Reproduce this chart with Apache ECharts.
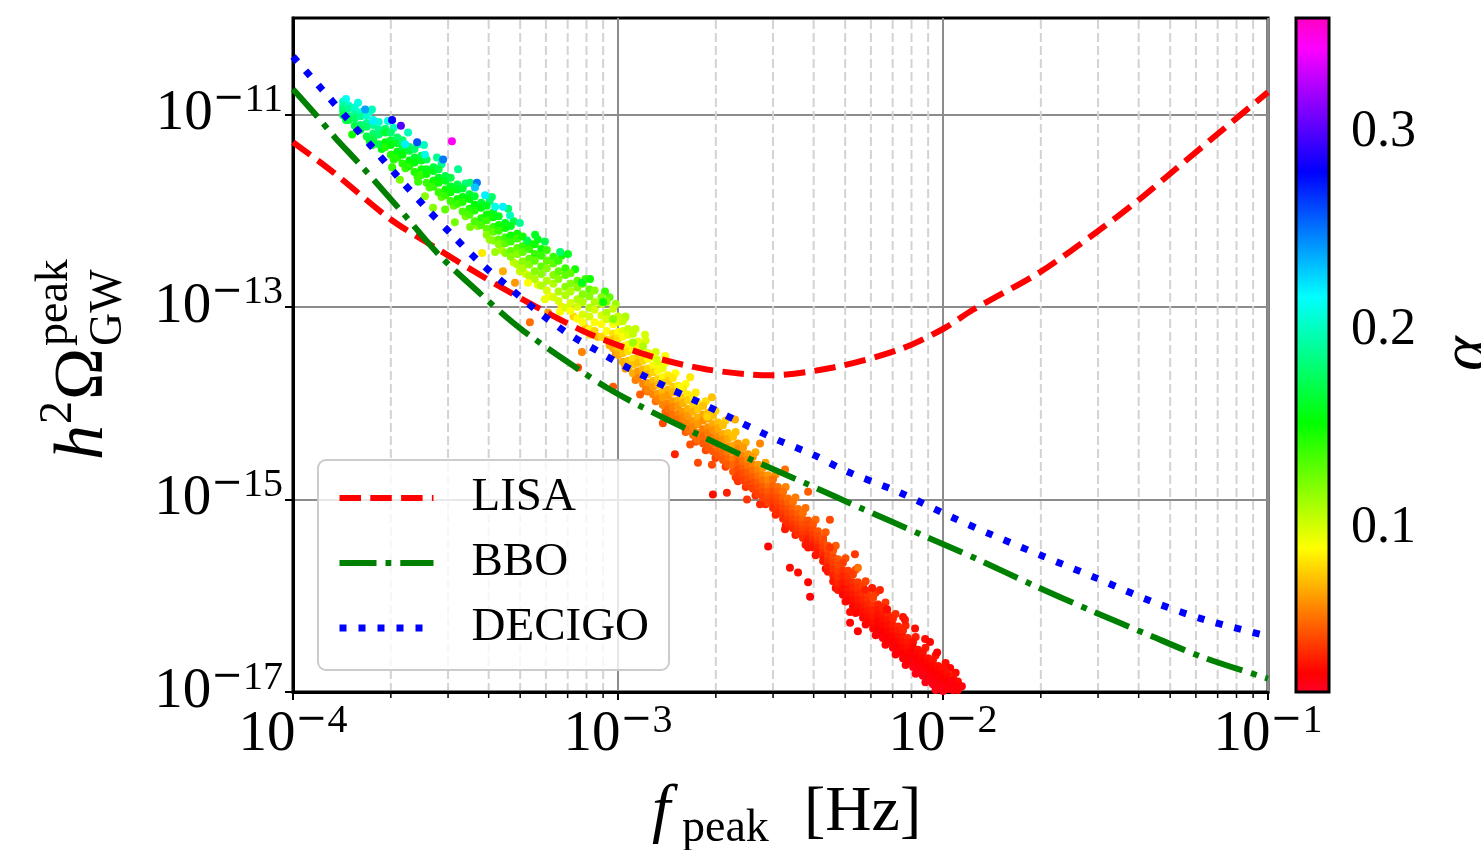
<!DOCTYPE html>
<html><head><meta charset="utf-8">
<script src="https://cdn.jsdelivr.net/npm/echarts/dist/echarts.min.js"></script>
<style>html,body{margin:0;padding:0;background:#fff}#c{width:1481px;height:850px}</style>
</head><body><div id="c"></div>
<script>
// ---------------- data (log10 units) ----------------
const xTickExponents = [-4, -3, -2, -1];
const yTickExponents = [-17, -15, -13, -11];
const xRangeExp = [-4, -1];
const yRangeExp = [-17, -10];
const minorMantissas = [2, 3, 4, 5, 6, 7, 8, 9];
const minorDecades = [-4, -3, -2];
const colorbarTicks = [0.1, 0.2, 0.3];
const alphaRange = [0.017, 0.358];

// sensitivity curves: [log10 f, log10 h2Omega]
const lisaCurve = [[-4.000,-11.29],[-3.877,-11.60],[-3.700,-12.09],[-3.569,-12.37],[-3.363,-12.79],[-3.108,-13.25],[-2.902,-13.51],[-2.726,-13.65],[-2.532,-13.71],[-2.338,-13.63],[-2.132,-13.44],[-2.000,-13.23],[-1.908,-13.03],[-1.702,-12.64],[-1.526,-12.22],[-1.394,-11.88],[-1.302,-11.62],[-1.157,-11.21],[-1.000,-10.77]];
const bboCurve = [[-4.000,-10.74],[-3.926,-11.02],[-3.871,-11.24],[-3.794,-11.52],[-3.671,-11.99],[-3.548,-12.47],[-3.425,-12.86],[-3.342,-13.11],[-3.271,-13.30],[-3.108,-13.68],[-3.034,-13.84],[-2.932,-14.03],[-2.769,-14.30],[-2.594,-14.58],[-2.418,-14.84],[-2.246,-15.10],[-2.071,-15.36],[-1.895,-15.62],[-1.723,-15.89],[-1.548,-16.15],[-1.372,-16.40],[-1.200,-16.64],[-1.000,-16.86]];
const decigoCurve = [[-4.000,-10.40],[-3.911,-10.74],[-3.834,-11.04],[-3.754,-11.35],[-3.677,-11.65],[-3.594,-11.96],[-3.511,-12.25],[-3.428,-12.53],[-3.338,-12.79],[-3.246,-13.05],[-3.148,-13.29],[-3.046,-13.49],[-2.994,-13.59],[-2.834,-13.86],[-2.726,-14.03],[-2.618,-14.21],[-2.511,-14.38],[-2.403,-14.53],[-2.295,-14.71],[-2.132,-14.93],[-1.969,-15.19],[-1.855,-15.36],[-1.692,-15.59],[-1.526,-15.82],[-1.357,-16.06],[-1.194,-16.25],[-1.000,-16.42]];

// alpha values (top -> bottom of the band) used by the band slices
const alphaProfiles = [
 [.205,.19,.18,.17],
 [.18,.165,.155,.145],
 [.17,.16,.15,.14],
 [.165,.155,.145,.135],
 [.16,.15,.14,.13,.12],
 [.15,.14,.13,.12,.11],
 [.14,.13,.12,.11,.10],
 [.13,.12,.11,.10,.09],
 [.12,.11,.10,.09,.08],
 [.105,.098,.09,.083,.076,.07],
 [.095,.088,.08,.073,.066,.06],
 [.085,.078,.071,.065,.06,.055],
 [.075,.069,.063,.058,.053,.049],
 [.065,.06,.055,.05,.046,.043],
 [.055,.051,.047,.044,.041,.038],
 [.048,.045,.042,.039,.036,.033],
 [.042,.039,.036,.033,.031,.029],
 [.036,.033,.031,.029,.027,.025],
 [.031,.029,.027,.025,.024,.022]
];

// scatter band: [log10 f, alpha profile, [log10 h2Omega ...]]
const bandSlices = [
[-3.846,0,[-10.87,-10.92,-10.96,-11.01]],
[-3.829,0,[-10.91,-10.94,-11.02,-11.06]],
[-3.810,0,[-10.93,-11.00,-11.04,-11.12]],
[-3.792,0,[-10.98,-11.02,-11.11,-11.16]],
[-3.773,0,[-11.01,-11.09,-11.13,-11.23]],
[-3.753,0,[-11.06,-11.11,-11.20,-11.26]],
[-3.736,0,[-11.08,-11.16,-11.21,-11.31]],
[-3.716,1,[-11.15,-11.19,-11.29,-11.34]],
[-3.699,1,[-11.19,-11.27,-11.32,-11.42]],
[-3.679,1,[-11.24,-11.30,-11.39,-11.45]],
[-3.663,1,[-11.27,-11.36,-11.42,-11.51]],
[-3.642,1,[-11.34,-11.38,-11.48,-11.54]],
[-3.626,1,[-11.36,-11.45,-11.50,-11.60]],
[-3.605,2,[-11.43,-11.48,-11.57,-11.63]],
[-3.589,2,[-11.47,-11.57,-11.62,-11.71]],
[-3.568,2,[-11.55,-11.59,-11.69,-11.75]],
[-3.552,2,[-11.57,-11.66,-11.71,-11.81]],
[-3.531,2,[-11.64,-11.69,-11.78,-11.84]],
[-3.515,2,[-11.66,-11.75,-11.81,-11.90]],
[-3.494,2,[-11.73,-11.78,-11.88,-11.93]],
[-3.478,3,[-11.77,-11.86,-11.91,-12.01]],
[-3.457,3,[-11.83,-11.88,-11.98,-12.04]],
[-3.441,3,[-11.85,-11.94,-12.00,-12.11]],
[-3.421,3,[-11.92,-11.97,-12.08,-12.15]],
[-3.404,4,[-11.95,-12.04,-12.10,-12.19,-12.25]],
[-3.384,4,[-12.02,-12.07,-12.17,-12.22,-12.31]],
[-3.367,4,[-12.06,-12.15,-12.21,-12.30,-12.35]],
[-3.347,4,[-12.13,-12.18,-12.28,-12.34,-12.44]],
[-3.330,4,[-12.16,-12.26,-12.32,-12.42,-12.48]],
[-3.310,5,[-12.24,-12.29,-12.39,-12.45,-12.56]],
[-3.293,5,[-12.27,-12.37,-12.43,-12.53,-12.60]],
[-3.273,5,[-12.34,-12.40,-12.50,-12.56,-12.68]],
[-3.256,5,[-12.35,-12.45,-12.52,-12.63,-12.71]],
[-3.236,5,[-12.40,-12.47,-12.58,-12.66,-12.78]],
[-3.219,6,[-12.41,-12.52,-12.60,-12.73,-12.83]],
[-3.199,6,[-12.48,-12.55,-12.67,-12.76,-12.90]],
[-3.183,6,[-12.52,-12.63,-12.71,-12.84,-12.94]],
[-3.162,6,[-12.60,-12.67,-12.79,-12.88,-13.01]],
[-3.146,7,[-12.65,-12.76,-12.84,-12.96,-13.04]],
[-3.125,7,[-12.73,-12.80,-12.92,-13.00,-13.12]],
[-3.109,7,[-12.76,-12.87,-12.95,-13.08,-13.16]],
[-3.088,7,[-12.82,-12.89,-13.01,-13.10,-13.23]],
[-3.072,8,[-12.83,-12.95,-13.03,-13.16,-13.25]],
[-3.051,8,[-12.90,-12.97,-13.09,-13.18,-13.31]],
[-3.035,8,[-12.95,-13.06,-13.13,-13.25,-13.34]],
[-3.015,9,[-13.02,-13.12,-13.18,-13.28,-13.34,-13.43]],
[-3.000,9,[-13.10,-13.16,-13.26,-13.33,-13.43,-13.50]],
[-2.985,9,[-13.15,-13.25,-13.31,-13.41,-13.48,-13.57]],
[-2.969,9,[-13.23,-13.29,-13.39,-13.46,-13.56,-13.63]],
[-2.954,9,[-13.28,-13.38,-13.44,-13.54,-13.60,-13.69]],
[-2.938,10,[-13.36,-13.42,-13.52,-13.58,-13.67,-13.74]],
[-2.923,10,[-13.41,-13.50,-13.56,-13.65,-13.71,-13.80]],
[-2.908,10,[-13.48,-13.54,-13.64,-13.70,-13.79,-13.86]],
[-2.892,10,[-13.52,-13.61,-13.68,-13.77,-13.83,-13.91]],
[-2.877,10,[-13.60,-13.66,-13.75,-13.81,-13.90,-13.96]],
[-2.862,10,[-13.64,-13.73,-13.79,-13.88,-13.94,-14.02]],
[-2.846,11,[-13.71,-13.77,-13.86,-13.92,-14.00,-14.06]],
[-2.831,11,[-13.74,-13.83,-13.89,-13.98,-14.04,-14.12]],
[-2.815,11,[-13.82,-13.88,-13.97,-14.03,-14.11,-14.17]],
[-2.800,11,[-13.85,-13.94,-14.00,-14.09,-14.15,-14.23]],
[-2.785,11,[-13.91,-13.97,-14.06,-14.13,-14.21,-14.28]],
[-2.769,11,[-13.94,-14.03,-14.09,-14.18,-14.25,-14.33]],
[-2.754,11,[-14.00,-14.06,-14.15,-14.22,-14.31,-14.38]],
[-2.738,12,[-14.03,-14.12,-14.18,-14.27,-14.34,-14.42]],
[-2.723,12,[-14.10,-14.16,-14.25,-14.31,-14.39,-14.46]],
[-2.708,12,[-14.13,-14.22,-14.28,-14.36,-14.42,-14.50]],
[-2.692,12,[-14.20,-14.26,-14.34,-14.40,-14.48,-14.54]],
[-2.677,12,[-14.23,-14.32,-14.38,-14.46,-14.52,-14.59]],
[-2.662,12,[-14.31,-14.37,-14.45,-14.51,-14.58,-14.64]],
[-2.646,12,[-14.35,-14.44,-14.50,-14.58,-14.64,-14.71]],
[-2.631,13,[-14.42,-14.48,-14.56,-14.62,-14.69,-14.75]],
[-2.615,13,[-14.46,-14.54,-14.60,-14.68,-14.73,-14.80]],
[-2.600,13,[-14.53,-14.59,-14.66,-14.72,-14.79,-14.85]],
[-2.585,13,[-14.56,-14.64,-14.70,-14.77,-14.83,-14.89]],
[-2.569,13,[-14.64,-14.70,-14.76,-14.83,-14.88,-14.94]],
[-2.554,13,[-14.67,-14.75,-14.80,-14.87,-14.92,-14.98]],
[-2.538,13,[-14.75,-14.80,-14.87,-14.92,-14.98,-15.03]],
[-2.523,14,[-14.79,-14.86,-14.92,-14.98,-15.03,-15.09]],
[-2.508,14,[-14.87,-14.92,-14.98,-15.04,-15.09,-15.14]],
[-2.492,14,[-14.92,-14.99,-15.04,-15.10,-15.15,-15.20]],
[-2.477,14,[-14.99,-15.04,-15.10,-15.15,-15.21,-15.25]],
[-2.462,14,[-15.03,-15.10,-15.15,-15.21,-15.26,-15.30]],
[-2.446,14,[-15.10,-15.15,-15.21,-15.26,-15.31,-15.35]],
[-2.431,14,[-15.14,-15.21,-15.26,-15.31,-15.36,-15.40]],
[-2.415,15,[-15.22,-15.26,-15.32,-15.37,-15.41,-15.45]],
[-2.400,15,[-15.26,-15.32,-15.37,-15.42,-15.46,-15.50]],
[-2.385,15,[-15.33,-15.38,-15.43,-15.47,-15.51,-15.55]],
[-2.369,15,[-15.39,-15.45,-15.50,-15.55,-15.59,-15.64]],
[-2.354,15,[-15.48,-15.53,-15.59,-15.64,-15.70,-15.75]],
[-2.338,15,[-15.53,-15.60,-15.66,-15.73,-15.79,-15.85]],
[-2.323,15,[-15.62,-15.68,-15.75,-15.81,-15.88,-15.94]],
[-2.308,16,[-15.66,-15.74,-15.80,-15.87,-15.93,-15.99]],
[-2.292,16,[-15.74,-15.80,-15.87,-15.93,-16.00,-16.05]],
[-2.277,16,[-15.78,-15.86,-15.92,-15.99,-16.05,-16.11]],
[-2.262,16,[-15.86,-15.92,-15.99,-16.05,-16.12,-16.17]],
[-2.246,16,[-15.90,-15.98,-16.04,-16.11,-16.17,-16.23]],
[-2.231,16,[-15.98,-16.04,-16.10,-16.16,-16.23,-16.28]],
[-2.215,16,[-16.02,-16.10,-16.15,-16.22,-16.28,-16.34]],
[-2.200,17,[-16.09,-16.15,-16.21,-16.27,-16.34,-16.39]],
[-2.185,17,[-16.12,-16.20,-16.26,-16.32,-16.38,-16.44]],
[-2.169,17,[-16.20,-16.25,-16.31,-16.37,-16.43,-16.48]],
[-2.154,17,[-16.24,-16.31,-16.37,-16.43,-16.48,-16.54]],
[-2.138,17,[-16.32,-16.37,-16.43,-16.48,-16.54,-16.59]],
[-2.123,17,[-16.36,-16.43,-16.48,-16.54,-16.60,-16.65]],
[-2.108,17,[-16.44,-16.49,-16.54,-16.59,-16.64,-16.69]],
[-2.092,18,[-16.48,-16.54,-16.59,-16.64,-16.69,-16.74]],
[-2.077,18,[-16.56,-16.60,-16.65,-16.69,-16.74,-16.78]],
[-2.062,18,[-16.59,-16.65,-16.69,-16.74,-16.78,-16.83]],
[-2.046,18,[-16.65,-16.69,-16.74,-16.78,-16.83,-16.87]],
[-2.031,18,[-16.67,-16.73,-16.78,-16.83,-16.88,-16.92]],
[-2.015,18,[-16.73,-16.77,-16.82,-16.87,-16.92,-16.96]],
[-2.000,18,[-16.75,-16.81,-16.86,-16.91,-16.95,-16.99]],
[-1.985,18,[-16.81,-16.85,-16.89,-16.93,-16.97,-17.01]],
[-1.969,18,[-16.84,-16.88,-16.92,-16.95,-16.98,-17.02]],
[-1.954,18,[-16.89,-16.92,-16.95,-16.98,-17.01,-17.04]]
];

// fringe just above / below the band: [log10 f, log10 h2Omega, alpha]
const bandFringe = [
[-3.837,-10.84,.215],[-3.837,-11.06,.17],[-3.801,-11.17,.165],[-3.764,-10.97,.21],[-3.764,-11.28,.16],[-3.727,-11.36,.155],
[-3.690,-11.14,.20],[-3.690,-11.47,.145],[-3.654,-11.56,.14],[-3.617,-11.31,.195],[-3.617,-11.65,.14],[-3.580,-11.76,.135],
[-3.543,-11.52,.19],[-3.543,-11.86,.13],[-3.506,-11.95,.13],[-3.469,-11.72,.185],[-3.469,-12.06,.125],[-3.432,-12.16,.12],
[-3.395,-11.90,.18],[-3.395,-12.30,.115],[-3.358,-12.41,.11],[-3.321,-12.11,.17],[-3.321,-12.54,.105],[-3.284,-12.66,.10],
[-3.247,-12.30,.16],[-3.247,-12.77,.095],[-3.210,-12.89,.09],[-3.174,-12.47,.15],[-3.174,-13.00,.085],[-3.137,-13.10,.08],
[-3.100,-12.71,.14],[-3.100,-13.22,.075],[-3.063,-13.31,.072],[-3.026,-12.90,.13],[-3.026,-13.40,.07],
[-3.007,-12.97,.115],[-3.007,-13.49,.065],[-2.977,-13.10,.11],[-2.977,-13.64,.062],[-2.946,-13.23,.105],[-2.946,-13.76,.058],
[-2.915,-13.35,.10],[-2.915,-13.87,.056],[-2.884,-13.47,.10],[-2.884,-13.98,.055],[-2.854,-13.58,.095],[-2.854,-14.09,.053],
[-2.823,-13.69,.09],[-2.823,-14.19,.05],[-2.792,-13.80,.09],[-2.792,-14.30,.05],[-2.761,-13.89,.085],[-2.761,-14.40,.048],
[-2.730,-13.98,.082],[-2.730,-14.49,.045],[-2.700,-14.08,.08],[-2.700,-14.57,.044],[-2.669,-14.18,.078],[-2.669,-14.66,.043],
[-2.638,-14.30,.075],[-2.638,-14.77,.042],[-2.607,-14.41,.072],[-2.607,-14.87,.04],[-2.577,-14.51,.07],[-2.577,-14.96,.039],
[-2.546,-14.62,.067],[-2.546,-15.05,.038],[-2.515,-14.74,.063],[-2.515,-15.16,.036],[-2.484,-14.87,.06],[-2.484,-15.27,.035],
[-2.454,-14.98,.058],[-2.454,-15.37,.034],[-2.423,-15.09,.055],[-2.423,-15.47,.033],[-2.392,-15.21,.053],[-2.392,-15.58,.032],
[-2.361,-15.34,.05],[-2.361,-15.72,.031],[-2.330,-15.48,.05],[-2.330,-15.92,.03],[-2.300,-15.61,.047],[-2.300,-16.06,.03],
[-2.269,-15.73,.045],[-2.269,-16.18,.029],[-2.238,-15.85,.044],[-2.238,-16.30,.028],[-2.207,-15.97,.042],[-2.207,-16.41,.027],
[-2.177,-16.07,.04],[-2.177,-16.51,.026],[-2.146,-16.19,.038],[-2.146,-16.61,.025],[-2.115,-16.31,.036],[-2.115,-16.72,.024],
[-2.084,-16.43,.034],[-2.084,-16.81,.023],[-2.054,-16.54,.033],[-2.054,-16.90,.022],[-2.023,-16.62,.032],[-2.023,-16.98,.022],
[-1.992,-16.70,.03],[-1.961,-16.80,.029]
];

// points scattered along the edges of the band: [log10 f, log10 h2Omega, alpha]
const bandEdgePoints = [
[-3.800,-10.88,.21],[-3.757,-10.95,.20],[-3.708,-11.07,.21],[-3.646,-11.19,.20],[-3.597,-11.32,.20],[-3.557,-11.45,.19],
[-3.492,-11.57,.19],[-3.455,-11.71,.18],[-3.388,-11.86,.18],[-3.338,-11.98,.18],[-3.255,-12.25,.16],[-3.225,-12.32,.17],
[-3.154,-12.45,.16],[-3.132,-12.61,.15],[-3.086,-12.71,.15],[-3.040,-12.84,.14],
[-3.757,-11.32,.16],[-3.695,-11.55,.14],[-3.615,-11.70,.14],[-3.532,-11.99,.13],[-3.455,-12.17,.125],[-3.378,-12.43,.115],
[-3.302,-12.63,.105],[-3.225,-12.92,.095],[-3.178,-13.05,.09],[-3.086,-13.29,.085],
[-2.978,-13.11,.11],[-2.917,-13.29,.10],[-2.855,-13.51,.09],[-2.778,-13.73,.085],[-2.711,-13.94,.075],[-2.640,-14.17,.07],
[-2.563,-14.42,.06],[-2.486,-14.69,.055],[-2.415,-14.92,.05],[-2.348,-15.21,.045],[-2.271,-15.57,.04],[-2.194,-15.94,.036],
[-2.117,-16.25,.033],[-2.055,-16.45,.03],[-1.978,-16.75,.028],
[-2.978,-13.60,.062],[-2.908,-13.88,.055],[-2.846,-14.12,.05],[-2.778,-14.43,.047],[-2.711,-14.64,.045],[-2.631,-14.81,.04],
[-2.563,-15.05,.037],[-2.486,-15.31,.034],[-2.415,-15.50,.032],[-2.342,-15.73,.03],[-2.271,-16.09,.028],[-2.194,-16.40,.026],
[-2.117,-16.64,.024],[-2.046,-16.85,.023]
];

// isolated points: [log10 f, log10 h2Omega, alpha]
const scatterOutliers = [
[-3.778,-10.95,.24],[-3.695,-11.06,.28],[-3.668,-11.12,.30],[-3.618,-11.29,.26],[-3.538,-11.47,.25],[-3.511,-11.28,.345],
[-3.434,-11.71,.25],[-3.409,-11.84,.22],[-3.354,-11.96,.22],[-3.332,-12.05,.20],[-3.302,-12.13,.19],[-3.280,-12.31,.17],
[-3.178,-12.43,.18],[-3.111,-12.75,.16],[-3.754,-11.07,.22],[-3.655,-11.31,.22],[-3.594,-11.42,.21],[-3.440,-11.76,.23],
[-3.378,-11.96,.21],[-3.046,-12.95,.15],[-3.015,-13.13,.12],[-2.954,-13.37,.115],[-2.923,-13.41,.11],[-2.880,-13.55,.10],
[-2.809,-13.84,.09],[-2.726,-14.14,.08],
[-3.818,-11.21,.15],[-3.671,-11.68,.125],[-3.594,-11.85,.12],[-3.569,-11.97,.12],[-3.502,-12.12,.125],[-3.418,-12.44,.085],
[-3.354,-12.63,.07],[-3.317,-12.75,.065],[-3.277,-12.75,.09],[-3.271,-13.16,.055],[-3.215,-13.06,.065],[-3.111,-13.47,.06],
[-3.123,-13.63,.045],[-3.015,-13.83,.05],[-2.932,-13.91,.05],[-2.862,-14.21,.045],[-2.825,-14.53,.035],[-2.754,-14.62,.045],
[-2.708,-14.95,.03],[-2.665,-14.93,.035],[-2.603,-15.00,.04],[-2.538,-15.49,.028],[-2.471,-15.71,.03],[-2.446,-15.76,.03],
[-2.415,-15.86,.028],[-2.409,-16.01,.026],[-2.369,-15.42,.045],[-2.348,-15.50,.04],[-2.286,-16.17,.03],[-2.286,-16.28,.028],
[-2.262,-16.37,.027],[-2.262,-15.71,.055],[-2.240,-15.94,.035],[-2.218,-15.92,.033],[-2.172,-16.14,.03],[-2.123,-16.22,.032],
[-2.086,-16.34,.03],[-2.040,-16.48,.028],[-2.018,-16.59,.027],[-1.972,-16.89,.024],[-1.942,-16.94,.024]
];

// ---------------- colormap (matplotlib gist_rainbow) ----------------
const gistStops = [[0,[255,0,41]],[0.03,[255,0,0]],[0.215,[255,255,0]],[0.4,[0,255,0]],[0.586,[0,255,255]],[0.77,[0,0,255]],[0.954,[255,0,255]],[1,[255,0,191]]];
function cmap(t){
  t = Math.max(0, Math.min(1, t));
  for (let i = 1; i < gistStops.length; i++){
    const a = gistStops[i-1], b = gistStops[i];
    if (t <= b[0]){
      const u = (t - a[0]) / (b[0] - a[0]);
      const c = a[1].map((v, k) => Math.round(v + (b[1][k] - v) * u));
      return 'rgb(' + c.join(',') + ')';
    }
  }
  return 'rgb(255,0,191)';
}
function alphaColor(a){ return cmap((a - alphaRange[0]) / (alphaRange[1] - alphaRange[0])); }

// ---------------- build series data ----------------
const scatterData = [];
bandFringe.forEach(p => scatterData.push(p));
bandEdgePoints.forEach(p => scatterData.push(p));
bandSlices.forEach(s => s[2].forEach((y, i) => scatterData.push([s[0], y, alphaProfiles[s[1]][i]])));
scatterOutliers.forEach(p => scatterData.push(p));

const minorTicks = [];
minorDecades.forEach(d => minorMantissas.forEach(m => minorTicks.push([d + Math.log10(m), 0])));

const SERIF = '"Liberation Serif","Times New Roman",serif';
const powRich = {
  b: {fontFamily: SERIF, fontSize: 57, color: '#000', lineHeight: 68, verticalAlign: 'middle'},
  m: {fontFamily: '"DejaVu Serif",serif', fontSize: 38, color: '#000', lineHeight: 40, verticalAlign: 'top'},
  s: {fontFamily: SERIF, fontSize: 40, color: '#000', lineHeight: 40, verticalAlign: 'top'}
};
function powLabel(v){ return '{b|10}{m|\u2212}{s|' + Math.abs(Math.round(v)) + '}'; }

function txt(text, x, y, font, extra){
  return Object.assign({type: 'text', x: x, y: y, silent: true, style: {text: text, font: font, fill: '#000',
    textAlign: 'left', align: 'left', textVerticalAlign: 'middle', verticalAlign: 'middle'}}, extra || {});
}

const lisaStyle = {color: '#ff0000', width: 6, type: [21.5, 9.3], cap: 'butt'};
const bboStyle = {color: '#008000', width: 6, type: [37, 9, 5.8, 9], cap: 'butt'};
const decigoStyle = {color: '#0000ff', width: 7, type: [7, 12], cap: 'butt'};

const chart = echarts.init(document.getElementById('c'), null, {renderer: 'canvas', width: 1481, height: 850});
const option = {
  animation: false,
  backgroundColor: '#fff',
  grid: [
    {left: 293, top: 18, width: 975, height: 674, show: true, borderColor: '#000', borderWidth: 3, backgroundColor: 'transparent', containLabel: false},
    {left: 1296, top: 18, width: 33, height: 674, show: false, containLabel: false}
  ],
  xAxis: [
    {type: 'value', gridIndex: 0, min: xRangeExp[0], max: xRangeExp[1], interval: 1,
     axisLine: {show: true, onZero: false, lineStyle: {color: '#000', width: 3}},
     axisTick: {show: true, length: 8, lineStyle: {color: '#000', width: 2}, customValues: xTickExponents},
     axisLabel: {show: true, margin: 9, customValues: xTickExponents, formatter: powLabel, rich: powRich},
     splitLine: {show: true, lineStyle: {color: '#8c8c8c', width: 2}}},
    {type: 'value', gridIndex: 1, min: 0, max: 1, show: false}
  ],
  yAxis: [
    {type: 'value', gridIndex: 0, min: yRangeExp[0], max: yRangeExp[1], interval: 2,
     axisLine: {show: true, onZero: false, lineStyle: {color: '#000', width: 3}},
     axisTick: {show: true, length: 8, lineStyle: {color: '#000', width: 2}, customValues: yTickExponents},
     axisLabel: {show: true, margin: 10, customValues: yTickExponents, formatter: powLabel, rich: powRich},
     splitLine: {show: true, lineStyle: {color: '#8c8c8c', width: 2}}},
    {type: 'value', gridIndex: 1, min: alphaRange[0], max: alphaRange[1], position: 'right',
     axisLine: {show: false},
     axisTick: {show: true, length: 8, lineStyle: {color: '#000', width: 2}, customValues: colorbarTicks},
     axisLabel: {show: true, margin: 22, customValues: colorbarTicks, formatter: v => v.toFixed(1),
       fontFamily: SERIF, fontSize: 52, color: '#000'},
     splitLine: {show: false}}
  ],
  legend: {
    show: true, orient: 'vertical', left: 318, top: 460,
    data: [
      {name: 'LISA', itemStyle: {opacity: 0, borderWidth: 0}, lineStyle: lisaStyle},
      {name: 'BBO', itemStyle: {opacity: 0, borderWidth: 0}, lineStyle: bboStyle},
      {name: 'DECIGO', itemStyle: {opacity: 0, borderWidth: 0}, lineStyle: decigoStyle}
    ],
    itemWidth: 94, itemHeight: 14, itemGap: 17, padding: [14, 20, 18, 18], selectedMode: false,
    backgroundColor: 'rgba(255,255,255,0.8)', borderColor: '#cccccc', borderWidth: 2, borderRadius: 8,
    textStyle: {fontFamily: SERIF, fontSize: 47, color: '#000', lineHeight: 48, padding: [0, 0, 0, 33]}
  },
  series: [
    {type: 'custom', xAxisIndex: 0, yAxisIndex: 0, silent: true, z: 1, clip: false, data: minorTicks,
     renderItem: function(params, api){
       const x = api.value(0);
       const top = api.coord([x, yRangeExp[1]]);
       const bot = api.coord([x, yRangeExp[0]]);
       return {type: 'group', children: [
         {type: 'line', shape: {x1: top[0], y1: top[1] + 2, x2: bot[0], y2: bot[1] - 2},
          style: {stroke: '#d3d3d3', lineWidth: 2, lineDash: [9, 4]}},
         {type: 'line', shape: {x1: bot[0], y1: bot[1] + 1, x2: bot[0], y2: bot[1] + 6},
          style: {stroke: '#000', lineWidth: 1.5}}
       ]};
     }},
    {type: 'scatter', name: 'points', xAxisIndex: 0, yAxisIndex: 0, data: scatterData, symbol: 'circle', symbolSize: 8,
     silent: true, z: 2, progressive: 0, clip: true,
     itemStyle: {opacity: 1, borderWidth: 0, color: p => alphaColor(p.value[2])}},
    {type: 'line', name: 'LISA', xAxisIndex: 0, yAxisIndex: 0, data: lisaCurve, symbol: 'none', smooth: 0.3, z: 3, silent: true,
     lineStyle: lisaStyle, itemStyle: {color: '#ff0000'}},
    {type: 'line', name: 'BBO', xAxisIndex: 0, yAxisIndex: 0, data: bboCurve, symbol: 'none', smooth: 0.3, z: 3, silent: true,
     lineStyle: bboStyle, itemStyle: {color: '#008000'}},
    {type: 'line', name: 'DECIGO', xAxisIndex: 0, yAxisIndex: 0, data: decigoCurve, symbol: 'none', smooth: 0.3, z: 3, silent: true,
     lineStyle: decigoStyle, itemStyle: {color: '#0000ff'}},
    {type: 'custom', xAxisIndex: 1, yAxisIndex: 1, silent: true, z: 2, clip: false,
     data: [[0, alphaRange[0], alphaRange[1]]],
     renderItem: function(params, api){
       const p0 = api.coord([0, api.value(2)]);
       const p1 = api.coord([1, api.value(1)]);
       const stops = gistStops.map(s => ({offset: s[0], color: 'rgb(' + s[1].join(',') + ')'}));
       return {type: 'rect', shape: {x: p0[0], y: p0[1], width: p1[0] - p0[0], height: p1[1] - p0[1]},
         style: {fill: new echarts.graphic.LinearGradient(0, 1, 0, 0, stops), stroke: '#000', lineWidth: 3}};
     }}
  ],
  graphic: [
    txt('f', 652, 813, 'italic 66px ' + SERIF),
    txt('peak', 682, 829, '46px ' + SERIF),
    txt('[Hz]', 804, 813, '64px ' + SERIF),
    {type: 'group', x: 105, y: 460, rotation: Math.PI / 2, silent: true, children: [
      txt('h', 0, -21, 'italic 70px ' + SERIF),
      txt('2', 36, -46, '46px ' + SERIF),
      txt('\u03A9', 60, -21, '70px ' + SERIF),
      txt('peak', 114, -50, '46px ' + SERIF),
      txt('GW', 114, 4, '46px ' + SERIF)
    ]},
    {type: 'group', x: 1468, y: 355, rotation: Math.PI / 2, silent: true, children: [
      txt('\u03B1', -16, 0, 'italic 66px ' + SERIF)
    ]}
  ]
};
chart.setOption(option);
</script>
</body></html>
